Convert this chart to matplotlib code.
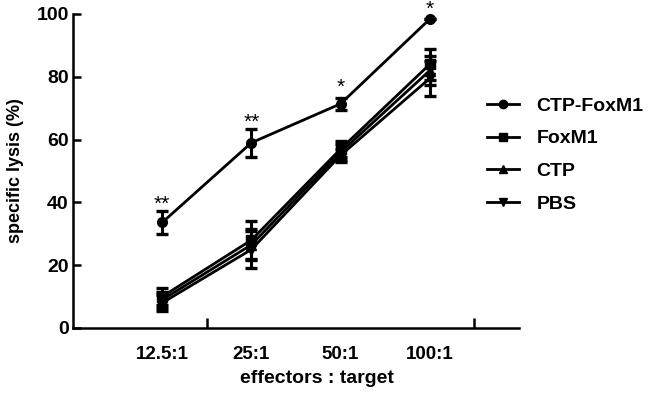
import matplotlib.pyplot as plt
from matplotlib.lines import Line2D
import numpy as np

plt.rcParams['font.family'] = ['Liberation Sans', 'DejaVu Sans']

ratios = ['12.5:1', '25:1', '50:1', '100:1']
series = ['CTP-FoxM1', 'FoxM1', 'CTP', 'PBS']
markers = ['o', 's', '^', 'v']

ctp_foxm1 = [33.6, 59.0, 71.4, 98.4]
ctp_foxm1_err = [3.7, 4.4, 2.0, 0.0]
foxm1 = [10.0, 28.0, 57.0, 84.0]
foxm1_err = [2.8, 6.0, 2.5, 5.0]
ctp = [9.0, 26.5, 56.0, 82.0]
ctp_err = [2.5, 5.0, 2.5, 4.5]
pbs = [8.0, 25.0, 55.0, 79.5]
pbs_err = [2.5, 6.0, 2.0, 5.5]

stars = ['**', '**', '*', '*']
star_y = [39.5, 65.5, 76.5, 101.5]


def main():
    fig = plt.figure(figsize=(6.5, 3.95), dpi=100)
    ax = fig.add_axes([73 / 650, 1 - 328 / 395, 446 / 650, 314 / 395])

    x = np.arange(len(ratios))
    values = [ctp_foxm1, foxm1, ctp, pbs]
    errors = [ctp_foxm1_err, foxm1_err, ctp_err, pbs_err]
    handles = []
    for name, m, y, e in zip(series, markers, values, errors):
        ax.errorbar(x, y, yerr=e, color='black', marker=m, markersize=7,
                    linewidth=2.0, elinewidth=2.2, capsize=4, capthick=2.4,
                    clip_on=False)
        handles.append(Line2D([], [], color='black', marker=m, markersize=6,
                              linewidth=2.0, label=name))

    for xi, s, sy in zip(x, stars, star_y):
        ax.text(xi, sy, s, ha='center', va='center', fontsize=15,
                clip_on=False)

    ax.set_xlim(-1, 4)
    ax.set_ylim(0, 100)
    ax.spines['top'].set_visible(False)
    ax.spines['right'].set_visible(False)
    ax.spines['left'].set_linewidth(1.8)
    ax.spines['bottom'].set_linewidth(1.8)

    ax.set_xticks(x)
    ax.set_xticklabels(ratios, fontsize=13.5, fontweight='bold')
    ax.tick_params(axis='x', which='major', length=0, pad=13)
    ax.set_xticks([0.5, 2.0, 3.5], minor=True)
    ax.tick_params(axis='x', which='minor', direction='in', length=7,
                   width=1.8)

    ax.set_yticks([0, 20, 40, 60, 80, 100])
    ax.tick_params(axis='y', direction='in', length=6, width=1.8, pad=3,
                   labelsize=14)
    for lab in ax.get_yticklabels():
        lab.set_fontweight('bold')

    ax.set_xlabel('effectors : target', fontsize=14, fontweight='bold')
    ax.xaxis.set_label_coords(0.547, -0.135)
    ax.set_ylabel('specific lysis (%)', fontsize=13, fontweight='bold')
    ax.yaxis.set_label_coords(-0.11, 0.5)

    fig.legend(handles=handles, loc='upper left',
               bbox_to_anchor=(487 / 650, 1 - 97 / 395),
               frameon=False, prop={'size': 14, 'weight': 'bold'},
               handlelength=1.65, handletextpad=0.9, labelspacing=0.78,
               borderpad=0, borderaxespad=0)

    fig.savefig('out.png', dpi=100)


if __name__ == '__main__':
    main()
